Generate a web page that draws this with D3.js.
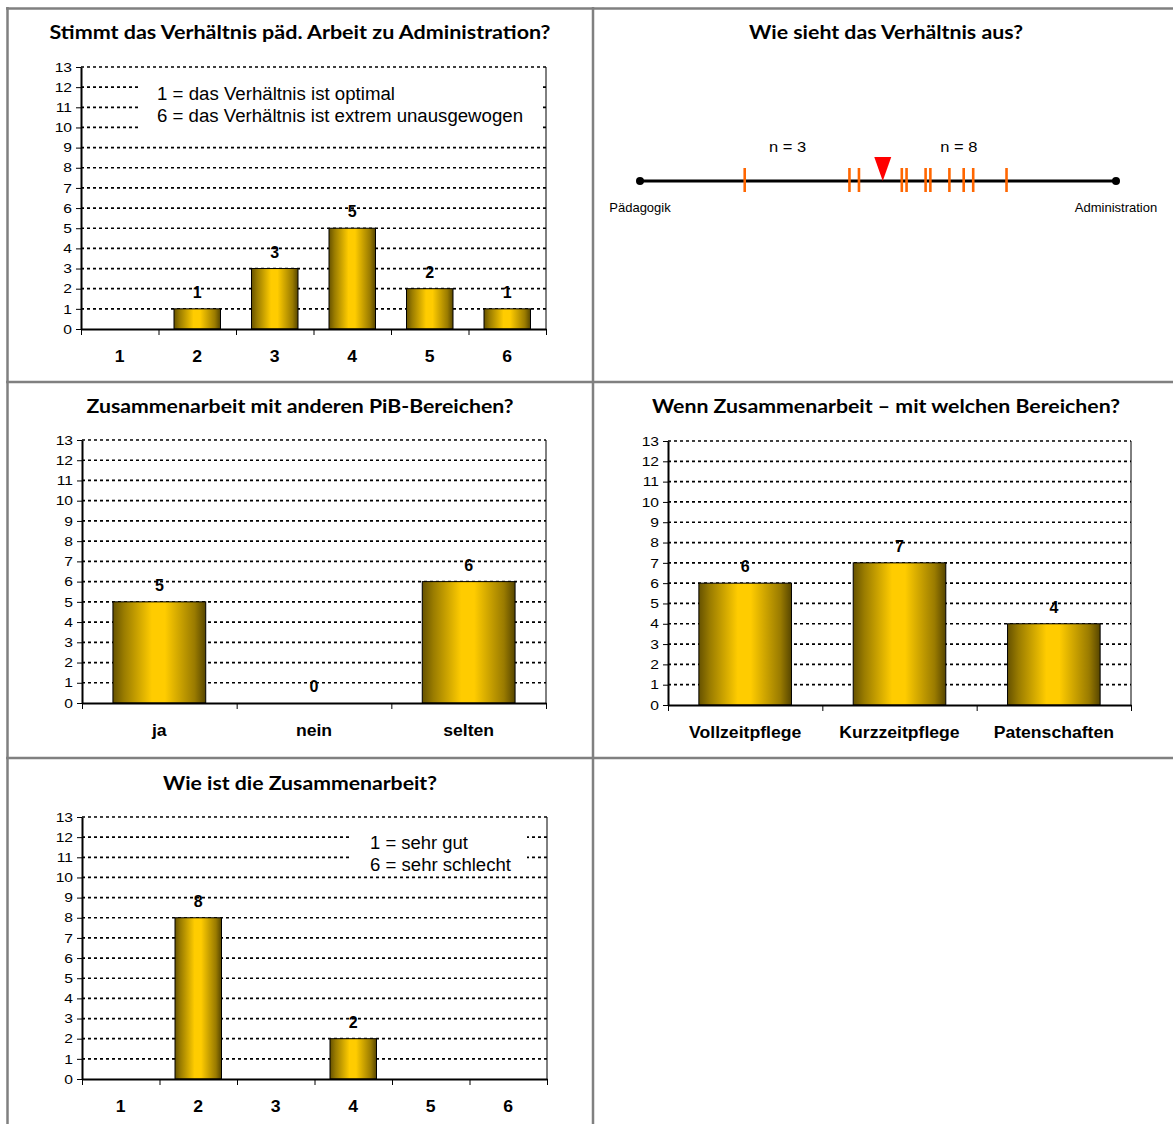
<!DOCTYPE html>
<html><head><meta charset="utf-8">
<script src="https://cdn.jsdelivr.net/npm/d3@7"></script>
<style>body{margin:0;background:#fff} svg{display:block}</style>
</head><body>
<svg id="c" width="1173" height="1124"></svg>
<script>
// ---------- data ----------
const yTickValues = [0,1,2,3,4,5,6,7,8,9,10,11,12,13];
const ratingCategories = ["1","2","3","4","5","6"];

const ratioTitle = "Stimmt das Verhältnis päd. Arbeit zu Administration?";
const ratioValues = [null,1,3,5,2,1];
const ratioLegend = ["1 = das Verhältnis ist optimal","6 = das Verhältnis ist extrem unausgewogen"];

const scaleTitle = "Wie sieht das Verhältnis aus?";
const scaleEnds = ["Pädagogik","Administration"];
const scaleMarks = [22,44,46,55,56,60,61,65,68,70,77];
const scaleMean = 51;
const scaleGroupLabels = ["n = 3","n = 8"];
const scaleGroupPos = [31,67];

const coopTitle = "Zusammenarbeit mit anderen PiB-Bereichen?";
const coopCategories = ["ja","nein","selten"];
const coopValues = [5,0,6];

const areaTitle = "Wenn Zusammenarbeit – mit welchen Bereichen?";
const areaCategories = ["Vollzeitpflege","Kurzzeitpflege","Patenschaften"];
const areaValues = [6,7,4];

const qualityTitle = "Wie ist die Zusammenarbeit?";
const qualityValues = [null,8,null,2,null,null];
const qualityLegend = ["1 = sehr gut","6 = sehr schlecht"];

// ---------- drawing ----------
const svg = d3.select("#c");
const ARIAL = "'Liberation Sans', Arial, sans-serif";
const TITLEF = "Lato, 'Open Sans', sans-serif";

// horizontally widen text a little (the reference charts are stretched sideways)
function widen(sel, k) {
  sel.each(function() {
    const w = this.getComputedTextLength();
    if (w > 0) d3.select(this).attr("textLength", w * k).attr("lengthAdjust", "spacingAndGlyphs");
  });
}

const defs = svg.append("defs");
const grad = defs.append("linearGradient").attr("id","gold").attr("x1","0").attr("x2","1").attr("y1","0").attr("y2","0");
[[0,"#665200"],[0.12,"#9a7c00"],[0.42,"#ffcc00"],[0.56,"#ffcc00"],[0.88,"#9a7b00"],[1,"#574600"]]
  .forEach(([o,c]) => grad.append("stop").attr("offset",o).attr("stop-color",c));

// table grid
const grid = svg.append("g").attr("stroke","#808080").attr("stroke-width",2.5);
[[6,8.5,1173,8.5],[6,382,1173,382],[6,758,1173,758],[7.5,7,7.5,1124],[593,7,593,1124]]
  .forEach(([a,b,c,d]) => grid.append("line").attr("x1",a).attr("y1",b).attr("x2",c).attr("y2",d));

function title(text, cx, cy, w) {
  svg.append("text").attr("x",cx).attr("y",cy).attr("dy","0.36em")
    .attr("text-anchor","middle").attr("font-family",TITLEF).attr("font-weight","bold")
    .attr("font-size",19).attr("fill","#000")
    .attr("textLength",w).attr("lengthAdjust","spacingAndGlyphs").text(text);
}

function barChart(cfg) {
  const g = svg.append("g");
  const x = d3.scaleBand().domain(cfg.categories).range([cfg.x0,cfg.x1]).paddingInner(0.4).paddingOuter(0.2);
  const y = d3.scaleLinear().domain([0,13]).range([cfg.yBottom,cfg.yTop]);
  // grid lines
  g.append("g").selectAll("line").data(yTickValues.filter(v=>v>0)).join("line")
    .attr("x1",cfg.x0).attr("x2",cfg.x1).attr("y1",d=>y(d)).attr("y2",d=>y(d))
    .attr("stroke","#000").attr("stroke-width",1.7).attr("stroke-dasharray","3,3");
  // right border
  g.append("line").attr("x1",cfg.x1).attr("x2",cfg.x1).attr("y1",y(13)).attr("y2",y(0))
    .attr("stroke","#000").attr("stroke-width",1);
  // legend box
  if (cfg.legend) {
    const L = cfg.legend;
    g.append("rect").attr("x",L.x0).attr("y",L.y0).attr("width",L.x1-L.x0).attr("height",L.y1-L.y0).attr("fill","#fff");
    L.lines.forEach((t,i) => g.append("text").attr("x",L.tx).attr("y",L.ty[i]).attr("dy","0.36em")
      .attr("font-family",ARIAL).attr("font-size",L.fs).attr("fill","#000")
      .attr("textLength",L.tw[i]).attr("lengthAdjust","spacingAndGlyphs").text(t));
  }
  // bars
  const data = cfg.categories.map((c,i)=>({c, v: cfg.values[i]})).filter(d=>d.v!==null);
  g.append("g").selectAll("rect").data(data.filter(d=>d.v>0)).join("rect")
    .attr("x",d=>x(d.c)).attr("width",x.bandwidth()).attr("y",d=>y(d.v)).attr("height",d=>y(0)-y(d.v))
    .attr("fill","url(#gold)").attr("stroke","#000").attr("stroke-width",1);
  // value labels
  g.append("g").selectAll("text").data(data).join("text")
    .attr("x",d=>x(d.c)+x.bandwidth()/2).attr("y",d=>y(d.v)-11)
    .attr("text-anchor","middle").attr("font-family",ARIAL).attr("font-weight","bold").attr("font-size",16)
    .text(d=>d.v);
  // y axis
  const ya = g.append("g").attr("transform",`translate(${cfg.x0},0)`)
    .call(d3.axisLeft(y).tickValues(yTickValues).tickSize(5).tickSizeOuter(0).tickPadding(4));
  ya.select(".domain").attr("stroke","#000").attr("stroke-width",2);
  ya.selectAll(".tick line").attr("stroke","#000").attr("stroke-width",1);
  ya.selectAll(".tick text").attr("font-family",ARIAL).attr("font-size",13).attr("fill","#000");
  widen(ya.selectAll(".tick text"), 1.2);
  // x axis
  const xb = d3.scaleLinear().domain([0,cfg.categories.length]).range([cfg.x0,cfg.x1]);
  const xa = g.append("g").attr("transform",`translate(0,${cfg.yBottom})`)
    .call(d3.axisBottom(xb).tickValues(d3.range(cfg.categories.length+1)).tickSize(6).tickSizeOuter(0).tickFormat(""));
  xa.select(".domain").attr("stroke","#000").attr("stroke-width",2);
  xa.selectAll(".tick line").attr("stroke","#000").attr("stroke-width",1);
  const xl = g.append("g").selectAll("text").data(cfg.categories).join("text")
    .attr("x",d=>x(d)+x.bandwidth()/2).attr("y",cfg.xLabelY).attr("dy","0.36em")
    .attr("text-anchor","middle").attr("font-family",ARIAL).attr("font-weight","bold").attr("font-size",16)
    .text(d=>d);
  widen(xl, 1.1);
}

// chart 1
title(ratioTitle, 300, 32, 501);
barChart({categories: ratingCategories, values: ratioValues, x0:81, x1:546, yTop:67, yBottom:329, xLabelY:356,
  legend:{x0:139, x1:541, y0:76, y1:138, tx:157, ty:[94,116], tw:[238,366], fs:18, lines: ratioLegend}});

// chart 2
title(scaleTitle, 886, 32, 274);
(function(){
  const g = svg.append("g");
  const sx = d3.scaleLinear().domain([0,100]).range([640,1116]);
  const ly = 181;
  g.append("line").attr("x1",sx(0)).attr("x2",sx(100)).attr("y1",ly).attr("y2",ly).attr("stroke","#000").attr("stroke-width",3);
  g.selectAll("circle").data([0,100]).join("circle").attr("cx",d=>sx(d)).attr("cy",ly).attr("r",4).attr("fill","#000");
  g.append("g").selectAll("line").data(scaleMarks).join("line")
    .attr("x1",d=>sx(d)).attr("x2",d=>sx(d)).attr("y1",ly-13).attr("y2",ly+11)
    .attr("stroke","#ff6600").attr("stroke-width",2.6);
  const mx = sx(scaleMean);
  g.append("path").attr("d",`M${mx-8.5},157 L${mx+8.5},157 L${mx},${ly}Z`).attr("fill","#ff0000");
  const gl = g.append("g").selectAll("text").data(scaleGroupLabels).join("text")
    .attr("x",(d,i)=>sx(scaleGroupPos[i])).attr("y",147).attr("dy","0.36em").attr("text-anchor","middle")
    .attr("font-family",ARIAL).attr("font-size",15).text(d=>d);
  widen(gl, 1.1);
  g.append("g").selectAll("text").data(scaleEnds).join("text")
    .attr("x",(d,i)=>sx(i*100)).attr("y",207).attr("dy","0.36em").attr("text-anchor","middle")
    .attr("font-family",ARIAL).attr("font-size",13).text(d=>d);
})();

// chart 3
title(coopTitle, 300, 406, 427);
barChart({categories: coopCategories, values: coopValues, x0:82, x1:546, yTop:440, yBottom:703, xLabelY:730});

// chart 4
title(areaTitle, 886, 406, 468);
barChart({categories: areaCategories, values: areaValues, x0:668, x1:1131, yTop:441, yBottom:705, xLabelY:732});

// chart 5
title(qualityTitle, 300, 783, 274);
barChart({categories: ratingCategories, values: qualityValues, x0:82, x1:547, yTop:817, yBottom:1079, xLabelY:1106,
  legend:{x0:352, x1:527, y0:826, y1:869, tx:370, ty:[843,865], tw:[98,141], fs:18, lines: qualityLegend}});
</script>
</body></html>
